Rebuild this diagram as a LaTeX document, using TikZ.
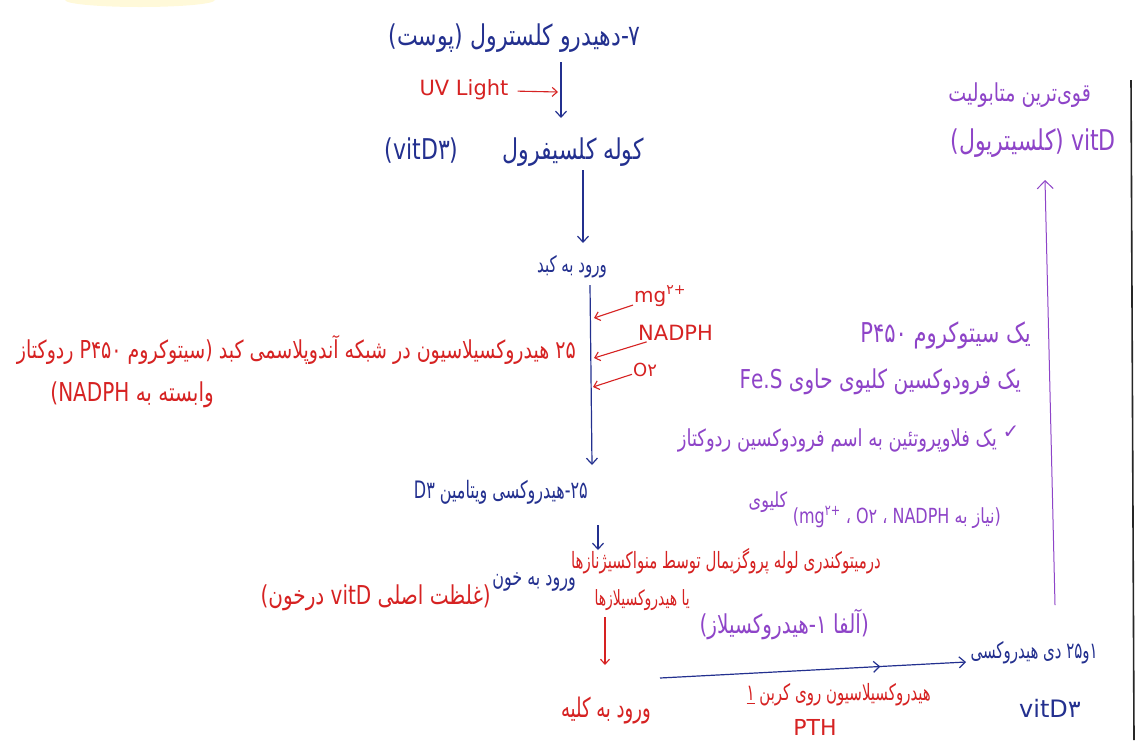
\documentclass[tikz,border=0pt]{standalone}
\usepackage{graphicx}
\usepackage{fontspec}
\setmainfont{DejaVu Sans}
\newfontfamily\fa[Script=Arabic]{DejaVu Sans}
\TeXXeTstate=1
\usetikzlibrary{arrows.meta,decorations.markings}
\definecolor{ink}{HTML}{23308F}
\definecolor{rdc}{HTML}{D62222}
\definecolor{ppc}{HTML}{8E44C8}
\newcommand\myR[1]{\scalebox{1}[1.3]{\beginR #1\endR}}
\newcommand\myRt[1]{\scalebox{1}[1.5]{\beginR #1\endR}}
\newcommand\myL[1]{\beginL #1\endL}
\begin{document}
\begin{tikzpicture}[x=1pt,y=-1pt,
  fs/.style={font=\fa\fontsize{#1}{#1}\selectfont},
  ls/.style={font=\fontsize{#1}{#1}\selectfont},
  fa/.style={inner sep=1pt, fs=16},
  la/.style={inner sep=1pt, ls=15},
  tb/.style={fa,text=ink}, tr/.style={fa,text=rdc}, tp/.style={fa,text=ppc},
  bflow/.style={draw=ink,line width=1.2pt,-{Straight Barb[length=6pt,width=11pt]}},
  rflow/.style={draw=rdc,line width=1.1pt,-{Straight Barb[length=5pt,width=9pt]}},
  pflow/.style={draw=ppc,line width=1pt,-{Straight Barb[length=8pt,width=16pt]}},
  midarr/.style={postaction={decorate},decoration={markings,mark=at position 0.72 with {\arrow{Straight Barb[length=6pt,width=11pt]}}}}
]
\fill[white] (0,0) rectangle (1140,740);
\path[use as bounding box] (0,0) rectangle (1140,740);
\fill[orange!30!yellow,opacity=0.15] (140,0) ellipse [x radius=75, y radius=7];
\draw[black!85,line width=1.6pt] (1131,80) -- (1134,740);

% main flow
\node[tb, fs=22, anchor=east] (dhc) at (642,38) {\myR{۷-دهیدرو کلسترول (پوست)}};
\node[la, ls=21, text=rdc] (uv) at (464,90) {UV Light};
\coordinate (c1a) at (561,62); \coordinate (c1b) at (561,118);
\draw[bflow] (c1a) -- (c1b);
\coordinate (uvtip) at (558,92);
\draw[rflow, shorten <=8pt] (uv) -- (uvtip);
\node[tb, fs=22, anchor=east] (chol) at (645,152) {\myR{کوله کلسیفرول\hspace{2em}(vitD۳)}};
\coordinate (c2a) at (583,170); \coordinate (c2b) at (583,243);
\draw[bflow] (c2a) -- (c2b);
\node[tb, fs=15] (liv) at (572,267) {\myRt{ورود به کبد}};
\coordinate (c3a) at (590,285); \coordinate (c3b) at (592,465);
\draw[bflow] (c3a) -- (c3b);

\node[la, ls=20, text=rdc, anchor=west] (mg) at (633,296) {mg\textsuperscript{۲+}};
\node[la, ls=21, text=rdc, anchor=west] (nadph) at (637,333) {NADPH};
\node[la, ls=18, text=rdc, anchor=west] (o2) at (632,370) {O۲};
\coordinate (mgt) at (594,318); \coordinate (nat) at (594,358); \coordinate (o2t) at (593,387);
\draw[rflow] (mg) -- (mgt);
\draw[rflow] (nadph) -- (nat);
\draw[rflow] (o2) -- (o2t);

\node[tr, fs=19, anchor=east] (hyd) at (577,350) {\myR{۲۵ هیدروکسیلاسیون در شبکه آندوپلاسمی کبد (سیتوکروم P۴۵۰ ردوکتاز}};
\node[tr, fs=20, anchor=east] (hyd2) at (215,395) {\myR{وابسته به NADPH\kern0pt)}};

\node[tb, fs=16, anchor=east] (d25) at (589,492) {\myRt{۲۵-هیدروکسی ویتامین D۳}};
\coordinate (c4a) at (598,525); \coordinate (c4b) at (598,550);
\draw[bflow] (c4a) -- (c4b);

\node[tr, fs=15, anchor=east] (mito) at (882,561) {\myRt{درمیتوکندری لوله پروگزیمال توسط منواکسیژنازها}};
\node[tb, fs=16, anchor=east] (blood) at (577,582) {\myRt{ورود به خون}};
\node[tr, fs=20, anchor=east] (conc) at (492,598) {\myR{(غلظت اصلی vitD درخون)}};
\node[tr, fs=14, anchor=east] (hydx) at (691,600) {\myRt{یا هیدروکسیلازها}};
\node[tp, fs=20, anchor=east] (alfa) at (870,624) {\myR{(آلفا ۱-هیدروکسیلاز)}};
\coordinate (c5a) at (605,617); \coordinate (c5b) at (605,665);
\draw[rflow] (c5a) -- (c5b);
\node[tr, fs=18, anchor=east] (kid) at (652,711) {\myRt{ورود به کلیه}};

\coordinate (c6a) at (660,678); \coordinate (c6b) at (966,662);
\draw[bflow, midarr] (c6a) -- (c6b);
\node[tr, fs=15, anchor=east] (c1) at (932,695) {\myRt{هیدروکسیلاسیون روی کربن \underline{۱}}};
\node[la, ls=22, text=rdc] (pth) at (815,727) {PTH};
\node[tb, fs=15, anchor=east] (dihyd) at (1099,653) {\myRt{۱و۲۵ دی هیدروکسی}};
\node[la, ls=24, text=ink] (vd3) at (1050,708) {vitD۳};

% purple side
\node[tp, fs=19, anchor=east] (strong) at (1092,95) {\myR{قوی‌ترین متابولیت}};
\node[tp, fs=22, anchor=east] (calc) at (1117,143) {\myR{vitD (کلسیتریول)}};
\node[tp, fs=21, anchor=east] (p1) at (1032,335) {\myR{یک سیتوکروم P۴۵۰}};
\node[tp, fs=20, anchor=east] (p2) at (1022,382) {\myR{یک فرودوکسین کلیوی حاوی Fe.S}};
\node[tp, fs=20] (chk) at (1011,432) {✓};
\node[tp, fs=18, anchor=east] (p3) at (998,440) {\myR{یک فلاوپروتئین به اسم فرودوکسین ردوکتاز}};
\node[tp, fs=16] (p3b) at (768,502) {\myR{کلیوی}};
\node[tp, fs=16, anchor=east] (p4) at (1002,517) {\myR{(نیاز به NADPH ، O۲ ، \myL{mg\textsuperscript{\normalfont ۲+}}\kern0pt)}};
\coordinate (c7a) at (1055,605); \coordinate (c7b) at (1045,180);
\draw[pflow] (c7a) -- (c7b);
\end{tikzpicture}
\end{document}
